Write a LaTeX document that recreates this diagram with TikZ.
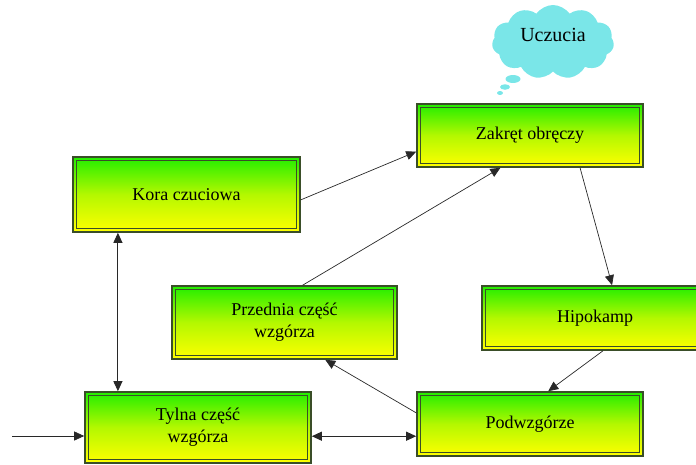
\documentclass[tikz,border=0pt]{standalone}
\usepackage{fontspec}
\setmainfont{Liberation Serif}
\newfontfamily\labelfont{Liberation Serif}
\usetikzlibrary{arrows.meta,calc,shapes.symbols,shapes.geometric}
\definecolor{frame}{RGB}{58,78,40}
\definecolor{topgreen}{RGB}{34,238,0}
\definecolor{midgreen}{RGB}{180,248,0}
\definecolor{lowyellow}{RGB}{255,255,0}
\definecolor{skycloud}{RGB}{122,230,232}
\definecolor{wire}{RGB}{40,40,40}
\tikzset{
  area/.style={rectangle, inner sep=0pt, align=center,
    font=\labelfont\fontsize{18}{22}\selectfont,
    top color=topgreen, bottom color=lowyellow, middle color=midgreen,
    draw=frame, line width=1.6pt,
    path picture={\draw[frame, line width=0.9pt]
      ([shift={(3.2pt,-3.2pt)}]path picture bounding box.north west) rectangle
      ([shift={(-3.2pt,3.2pt)}]path picture bounding box.south east);}},
  link/.style={wire, line width=0.7pt, -{Triangle[length=10pt,width=9pt]}},
  biglink/.style={wire, line width=0.9pt, {Triangle[length=10pt,width=9pt]}-{Triangle[length=10pt,width=9pt]}},
  puff/.style={fill=skycloud, draw=none}
}
\begin{document}
\begin{tikzpicture}[x=1pt,y=-1pt]
\useasboundingbox (0,0) rectangle (696,464);
\clip (0,0) rectangle (696,464);

% thought cloud
\node[cloud, cloud puffs=11, cloud puff arc=110, aspect=1.7, puff,
      minimum width=122pt, minimum height=74pt] (cloud) at (553,42) {};
\node[puff, ellipse, minimum width=15pt, minimum height=8pt, inner sep=0pt] (b1) at (513,79) {};
\node[puff, ellipse, minimum width=10pt, minimum height=5.5pt, inner sep=0pt] (b2) at (505,87) {};
\node[puff, ellipse, minimum width=6pt, minimum height=4pt, inner sep=0pt] (b3) at (500,93) {};
\node[font=\labelfont\fontsize{20}{24}\selectfont] (feel) at (553,35) {Uczucia};

% brain areas
\node[area, minimum width=226pt, minimum height=63pt] (zak) at (530,135.5) {Zakręt obręczy};
\node[area, minimum width=227pt, minimum height=75pt] (kora) at (186.5,194.5) {Kora czuciowa};
\node[area, minimum width=225pt, minimum height=73pt] (przed) at (284.5,322.5) {Przednia część\\wzgórza};
\node[area, minimum width=226pt, minimum height=64pt] (hipo) at (595,318) {Hipokamp};
\node[area, minimum width=226pt, minimum height=71pt] (tyl) at (198,427.5) {Tylna część\\wzgórza};
\node[area, minimum width=226pt, minimum height=64pt] (podw) at (530,424) {Podwzgórze};

% connections
\draw[link] ($(kora.north east)!0.57!(kora.south east)$) -- ($(zak.north west)!0.75!(zak.south west)$);
\draw[link] ($(przed.north west)!0.58!(przed.north east)$) -- ($(zak.south west)!0.37!(zak.south east)$);
\draw[link] ($(zak.south west)!0.72!(zak.south east)$) -- ($(hipo.north west)!0.575!(hipo.north east)$);
\draw[link] ($(hipo.south west)!0.535!(hipo.south east)$) -- ($(podw.north west)!0.58!(podw.north east)$);
\draw[link] ($(podw.north west)!0.33!(podw.south west)$) -- ($(przed.south west)!0.68!(przed.south east)$);

\coordinate (kt) at ($(kora.south west)!0.2!(kora.south east)$);
\draw[biglink] (kt) -- (kt |- tyl.north);
\coordinate (tp) at ($(tyl.north east)!0.62!(tyl.south east)$);
\draw[biglink] (tp) -- (tp -| podw.west);
\coordinate (entry) at (12,436);
\draw[link] (entry) -- (entry -| tyl.west);
\end{tikzpicture}
\end{document}
